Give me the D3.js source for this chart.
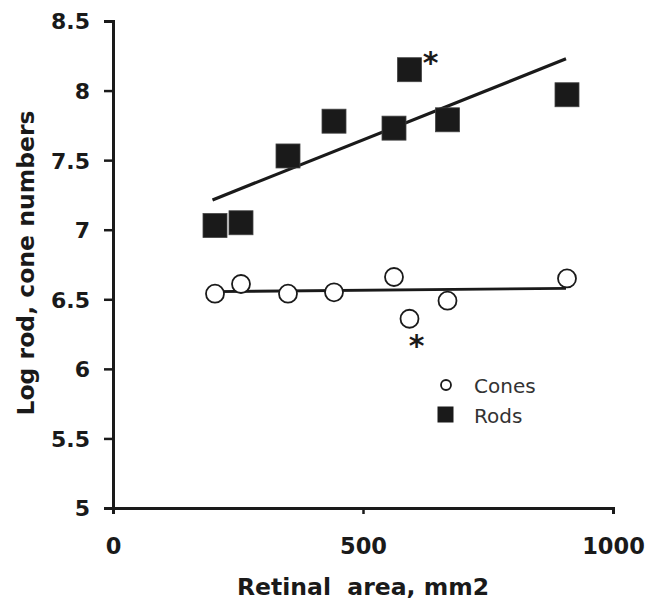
<!DOCTYPE html>
<html>
<head>
<meta charset="utf-8">
<script src="https://cdn.jsdelivr.net/npm/d3@7"></script>
<style>
  html, body { margin: 0; padding: 0; background: #fff; }
  svg { display: block; }
</style>
</head>
<body>
<svg id="chart" width="649" height="605"></svg>
<script>
// ---- data ----
const seriesNames = ["Cones", "Rods"];
const retinalArea = [204, 256, 350, 442, 562, 593, 669, 908];
const rodValues   = [7.03, 7.05, 7.53, 7.78, 7.73, 8.15, 7.79, 7.97];
const coneValues  = [6.54, 6.61, 6.54, 6.55, 6.66, 6.36, 6.49, 6.65];
const rodFit  = [[199, 7.214], [906, 8.228]];
const coneFit = [[199, 6.555], [906, 6.578]];
const outlierIndex = 5; // points marked with *
const xTicks = [0, 500, 1000];
const yTicks = [5, 5.5, 6, 6.5, 7, 7.5, 8, 8.5];
const xTitle = "Retinal\u00a0\u00a0area, mm2";
const yTitle = "Log rod, cone numbers";

// ---- layout ----
const svg = d3.select("#chart");
const x = d3.scaleLinear().domain([0, 1000]).range([113, 613]);
const y = d3.scaleLinear().domain([5, 8.5]).range([508, 21]);
const ink = "#1a1a1a";
const font = "'DejaVu Sans', Verdana, sans-serif";

// axes
const gx = svg.append("g").attr("transform", `translate(0,${y(5)})`)
  .call(d3.axisBottom(x).tickValues(xTicks).tickSize(6).tickSizeOuter(6).tickFormat(d3.format("d")));
const gy = svg.append("g").attr("transform", `translate(${x(0)},0)`)
  .call(d3.axisLeft(y).tickValues(yTicks).tickSize(9).tickSizeOuter(9).tickFormat(d => String(d)));

[gx, gy].forEach(g => {
  g.select(".domain").attr("stroke", ink).attr("stroke-width", 3);
  g.selectAll(".tick line").attr("stroke", ink).attr("stroke-width", 2.5);
  g.selectAll(".tick text").attr("fill", ink).attr("font-family", font).attr("font-weight", "bold");
});
gx.selectAll(".tick line").filter(d => d === 0).remove();
gx.selectAll(".tick text").attr("font-size", 22.5).attr("y", 46).attr("dy", 0);
gy.selectAll(".tick text").attr("font-size", 22).attr("x", -23).attr("dy", "0.36em");
gy.selectAll(".tick line").filter(d => d === 5).remove();

// axis titles
svg.append("text")
  .attr("x", x(500)).attr("y", 595)
  .attr("text-anchor", "middle")
  .attr("font-family", font).attr("font-weight", "bold").attr("font-size", 23.5)
  .attr("fill", ink).text(xTitle);
svg.append("text")
  .attr("transform", `translate(34,263) rotate(-90)`)
  .attr("text-anchor", "middle")
  .attr("font-family", font).attr("font-weight", "bold").attr("font-size", 23.5)
  .attr("fill", ink).text(yTitle);

// fit lines
const line = d3.line().x(d => x(d[0])).y(d => y(d[1]));
svg.append("path").attr("d", line(rodFit)).attr("fill", "none").attr("stroke", ink).attr("stroke-width", 3.2);
svg.append("path").attr("d", line(coneFit)).attr("fill", "none").attr("stroke", ink).attr("stroke-width", 2.8);

// cones
const cones = retinalArea.map((a, i) => ({a, v: coneValues[i], i}));
svg.append("g").selectAll("circle").data(cones).join("circle")
  .attr("cx", d => x(d.a)).attr("cy", d => y(d.v)).attr("r", 9)
  .attr("fill", "#fff").attr("stroke", "#1a1a1a").attr("stroke-width", 1.8);

// rods
const rods = retinalArea.map((a, i) => ({a, v: rodValues[i], i}));
const s = 24;
svg.append("g").selectAll("rect").data(rods).join("rect")
  .attr("x", d => x(d.a) - s / 2).attr("y", d => y(d.v) - s / 2)
  .attr("width", s).attr("height", s)
  .attr("fill", ink).attr("stroke", "#444").attr("stroke-width", 0.8);

// asterisks
svg.append("text")
  .attr("x", x(retinalArea[outlierIndex]) + 21).attr("y", y(rodValues[outlierIndex]) + 3)
  .attr("text-anchor", "middle").attr("font-family", font).attr("font-weight", "bold").attr("font-size", 30)
  .attr("fill", ink).text("*");
svg.append("text")
  .attr("x", x(retinalArea[outlierIndex]) + 7).attr("y", y(coneValues[outlierIndex]) + 37)
  .attr("text-anchor", "middle").attr("font-family", font).attr("font-weight", "bold").attr("font-size", 30)
  .attr("fill", ink).text("*");

// legend
const lg = svg.append("g");
lg.append("circle").attr("cx", 446).attr("cy", 385).attr("r", 5)
  .attr("fill", "#fff").attr("stroke", "#1a1a1a").attr("stroke-width", 1.8);
lg.append("rect").attr("x", 437.5).attr("y", 406.5).attr("width", 16).attr("height", 16).attr("fill", ink);
lg.selectAll("text").data(seriesNames).join("text")
  .attr("x", 474).attr("y", (d, i) => 393 + i * 29.5)
  .attr("font-family", font).attr("font-size", 20).attr("fill", "#333")
  .text(d => d);
</script>
</body>
</html>
